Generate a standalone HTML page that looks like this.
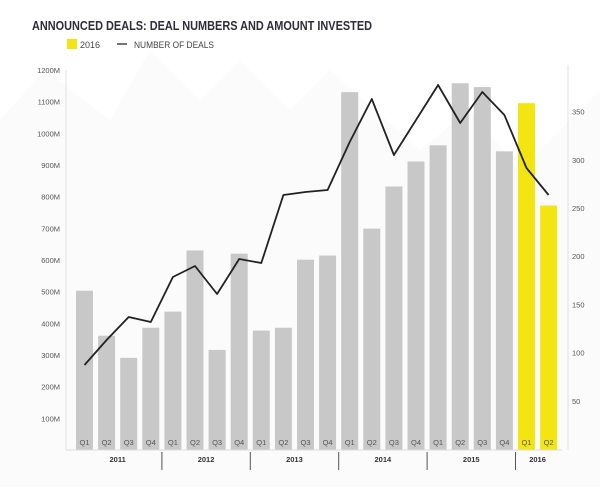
<!DOCTYPE html>
<html><head><style>body{margin:0;background:#fff}svg text{font-family:"Liberation Sans",sans-serif}</style></head><body>
<svg width="600" height="487" viewBox="0 0 600 487">
<polygon points="0,120 45,70 110,120 150,50 200,100 240,60 290,110 330,70 420,150 470,110 520,170 600,90 600,487 0,487" fill="#fbfbfb"/>
<text x="32" y="30" font-size="12.5" font-weight="bold" fill="#2e2e38" textLength="340" lengthAdjust="spacingAndGlyphs">ANNOUNCED DEALS: DEAL NUMBERS AND AMOUNT INVESTED</text>
<rect x="67" y="39" width="10" height="10" fill="#f2e511"/>
<text x="80" y="48" font-size="9" fill="#444">2016</text>
<line x1="117" y1="44" x2="127" y2="44" stroke="#444" stroke-width="1.5"/>
<text x="134" y="48" font-size="9" fill="#444" textLength="80" lengthAdjust="spacingAndGlyphs">NUMBER OF DEALS</text>
<line x1="66" y1="70" x2="66" y2="450" stroke="#e0e0e0"/>
<line x1="568" y1="65" x2="568" y2="450" stroke="#e0e0e0"/>
<g font-size="7.5" fill="#555" text-anchor="end" id="ly"></g>
<g font-size="7.5" fill="#555" id="ry"></g>
<g id="bars"></g>
<line x1="66" y1="450" x2="562" y2="450" stroke="#ddd"/>
<g id="yrs" font-size="7.5" font-weight="bold" fill="#333" text-anchor="middle"></g>
<polyline id="ln" fill="none" stroke="#222" stroke-width="1.8" stroke-linejoin="round"/>
</svg>
<script>
var ns="http://www.w3.org/2000/svg";function el(t,a,p,tx){var e=document.createElementNS(ns,t);for(var k in a)e.setAttribute(k,a[k]);if(tx)e.textContent=tx;document.getElementById(p).appendChild(e);return e}
for(var i=1;i<=12;i++){var y=450-i*31.67;el("text",{x:60,y:y+3},"ly",i*100+"M");}
for(var i=1;i<=7;i++){var y=449-i*48.2;el("text",{x:572,y:y+3},"ry",i*50+"");}
var v=[503,361,291,386,437,630,316,620,377,386,601,614,1130,699,832,911,962,1158,1146,943,1095,772];
var ly=[365,340,317,322,277,266,294,259,263,195,192,190,142,99,155,120,85,123,92,115,168,195];
var pts=[];
for(var i=0;i<22;i++){var x=76+22.1*i,h=v[i]*0.3167;el("rect",{x:x,y:450-h,width:17,height:h,fill:i>=20?"#f2e511":"#c8c8c8"},"bars");
el("text",{x:x+8.5,y:445,"font-size":7.5,fill:"#555","text-anchor":"middle"},"bars","Q"+(i%4+1));pts.push((x+8.5)+","+ly[i]);}
document.getElementById("ln").setAttribute("points",pts.join(" "));
var yr=["2011","2012","2013","2014","2015","2016"];
for(var j=0;j<6;j++){var c=j<5?76+22.1*(4*j+1.5)+8.5:76+22.1*20.5+8.5;el("text",{x:c,y:462},"yrs",yr[j]);
if(j>0){var dx=76+22.1*4*j-2.5;el("line",{x1:dx,y1:452,x2:dx,y2:470,stroke:"#555","stroke-width":1},"yrs");}}
</script>
</body></html>
